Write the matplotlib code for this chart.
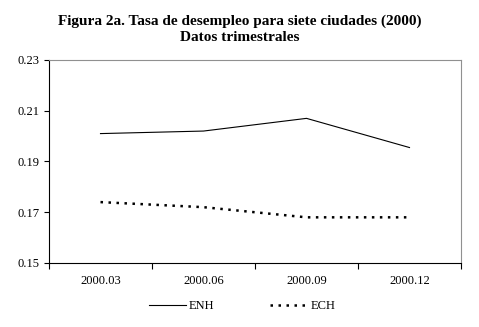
import matplotlib
matplotlib.use('Agg')
import matplotlib.pyplot as plt

plt.rcParams['font.family'] = ['Liberation Serif', 'DejaVu Serif']

quarters = ['2000.03', '2000.06', '2000.09', '2000.12']
enh = [0.201, 0.202, 0.207, 0.1955]
ech = [0.174, 0.172, 0.168, 0.168]
yticks = [0.15, 0.17, 0.19, 0.21, 0.23]

fig = plt.figure(figsize=(4.79, 3.27), dpi=100)
ax = fig.add_axes([49/479, 1 - 263/327, 412/479, 203/327])

x = range(len(quarters))
ax.plot(x, enh, color='black', lw=0.8, label='ENH')
ax.plot(x, ech, color='black', lw=1.8, ls=(0, (1, 2.2)), label='ECH')

ax.set_xlim(-0.5, len(quarters) - 0.5)
ax.set_ylim(0.15, 0.23)
ax.set_yticks(yticks)
ax.set_yticklabels([f'{v:.2f}' for v in yticks], fontsize=9)
ax.set_xticks(x)
ax.set_xticklabels(quarters, fontsize=9)
ax.tick_params(axis='x', length=0, pad=9)
ax.set_xticks([i - 0.5 for i in range(len(quarters) + 1)], minor=True)
ax.tick_params(axis='x', which='minor', length=4, direction='out', width=0.8)
ax.tick_params(axis='y', length=3.6, direction='out', width=0.8, pad=3)

for s in ['top', 'right']:
    ax.spines[s].set_color('#909090')
    ax.spines[s].set_linewidth(0.8)
for s in ['left', 'bottom']:
    ax.spines[s].set_color('black')
    ax.spines[s].set_linewidth(0.8)

fig.text(0.5, 1 - 29.5/327, 'Figura 2a. Tasa de desempleo para siete ciudades (2000)\nDatos trimestrales',
         ha='center', va='center', fontsize=11, fontweight='bold', linespacing=1.35)

fig.legend(loc='center', bbox_to_anchor=(0.505, 1 - 306/327), ncol=2, frameon=False,
           fontsize=9, handlelength=3.0, columnspacing=4.5, handletextpad=0.2)

fig.savefig('out.png', dpi=100)
